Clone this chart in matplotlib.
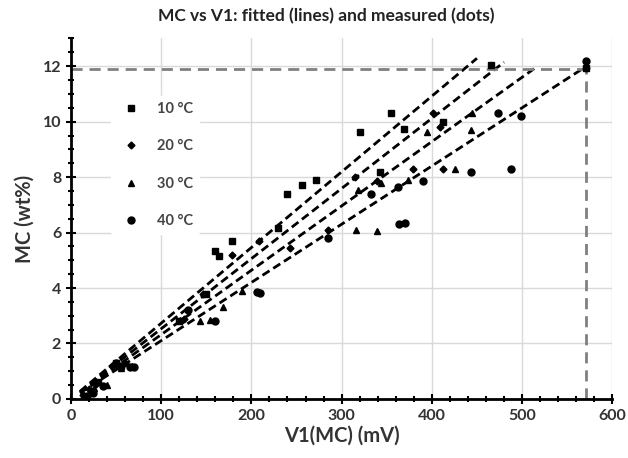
import matplotlib.pyplot as plt
from matplotlib.ticker import MultipleLocator

# measured points
x_10 = [15, 22, 30, 50, 55, 120, 150, 160, 164, 178, 230, 239, 256, 272, 320, 342, 355, 369, 412, 466, 571]
y_10 = [0.1, 0.3, 0.6, 1.3, 1.2, 2.8, 3.8, 5.35, 5.15, 5.7, 6.15, 7.4, 7.7, 7.9, 9.64, 8.2, 10.3, 9.75, 10.0, 12.05, 11.95]

x_20 = [13, 20, 28, 45, 60, 125, 146, 178, 208, 243, 285, 315, 339, 379, 401, 409, 412, 571]
y_20 = [0.15, 0.35, 0.55, 1.2, 1.3, 2.9, 3.8, 5.2, 5.7, 5.45, 6.1, 8.0, 7.85, 8.3, 10.3, 9.8, 8.3, 11.95]

x_30 = [16, 25, 40, 55, 68, 121, 143, 154, 168, 190, 316, 318, 339, 344, 374, 395, 426, 443, 445]
y_30 = [0.1, 0.4, 0.5, 1.1, 1.2, 2.85, 2.8, 2.85, 3.3, 3.9, 6.1, 7.55, 6.07, 7.8, 7.9, 9.64, 8.3, 9.7, 10.3]

x_40 = [18, 24, 35, 50, 65, 70, 130, 160, 206, 209, 285, 333, 362, 364, 370, 390, 443, 473, 488, 499, 571]
y_40 = [0.1, 0.2, 0.45, 1.3, 1.15, 1.15, 3.2, 2.8, 3.87, 3.83, 5.8, 7.4, 7.65, 6.3, 6.35, 7.87, 8.2, 10.3, 8.3, 10.2, 12.2]

# fitted lines: MC = slope * V1
fit_slopes = [0.0273, 0.0253, 0.0232, 0.0210]
fit_x_start = 10
fit_x_end = [450, 480, 517, 568]

# reference point
ref_x = 571
ref_y = 11.9

labels = ["10 °C", "20 °C", "30 °C", "40 °C"]
markers = ["s", "D", "^", "o"]
sizes = [5, 3.5, 5, 5]

plt.rcParams['font.family'] = ['Lato', 'DejaVu Sans']

fig = plt.figure(figsize=(6.28, 4.58), dpi=100)
ax = fig.add_axes([0.113, 0.129, 0.862, 0.787])

xs = [x_10, x_20, x_30, x_40]
ys = [y_10, y_20, y_30, y_40]
for x, y, m, s, lab in zip(xs, ys, markers, sizes, labels):
    ax.plot(x, y, linestyle="none", marker=m, markersize=s, color="black", label=lab, zorder=3)

for k, xe in zip(fit_slopes, fit_x_end):
    ax.plot([fit_x_start, xe], [k * fit_x_start, k * xe], color="black", linewidth=2,
            linestyle=(0, (3, 1.6)), zorder=2)

ax.plot([0, ref_x], [ref_y, ref_y], color="#808080", linewidth=2, linestyle=(0, (4, 2.5)), zorder=2)
ax.plot([ref_x, ref_x], [0, ref_y], color="#808080", linewidth=2, linestyle=(0, (4, 2.5)), zorder=2)

ax.set_xlim(0, 600)
ax.set_ylim(0, 13)
ax.xaxis.set_major_locator(MultipleLocator(100))
ax.xaxis.set_minor_locator(MultipleLocator(20))
ax.yaxis.set_major_locator(MultipleLocator(2))
ax.yaxis.set_minor_locator(MultipleLocator(0.5))
ax.tick_params(which="both", direction="inout", width=1.5, length=5, colors="black",
               labelcolor="#333333", labelsize=11.5)
ax.tick_params(which="major", length=7)
for lab in ax.get_xticklabels() + ax.get_yticklabels():
    lab.set_fontweight("bold")

ax.grid(True, which="major", color="#d9d9d9", linewidth=1)
ax.set_axisbelow(True)
for side in ["top", "right"]:
    ax.spines[side].set_visible(False)
for side in ["left", "bottom"]:
    ax.spines[side].set_linewidth(2)

ax.set_xlabel("V1(MC) (mV)", fontsize=14.5, fontweight="bold", color="#333333", labelpad=2)
ax.set_ylabel("MC (wt%)", fontsize=14.5, fontweight="bold", color="#333333", labelpad=6)
fig.text(0.52, 0.965, "MC vs V1: fitted (lines) and measured (dots)", ha="center", va="center",
         fontsize=12.5, fontweight="bold", color="#222222")

leg = ax.legend(loc="upper left", bbox_to_anchor=(0.06, 0.86), frameon=True, framealpha=1,
                edgecolor="white", labelspacing=1.6, handletextpad=0.8,
                prop={"weight": "bold", "size": 10.5})
for t in leg.get_texts():
    t.set_color("#444444")

plt.savefig("out.png", dpi=100)
